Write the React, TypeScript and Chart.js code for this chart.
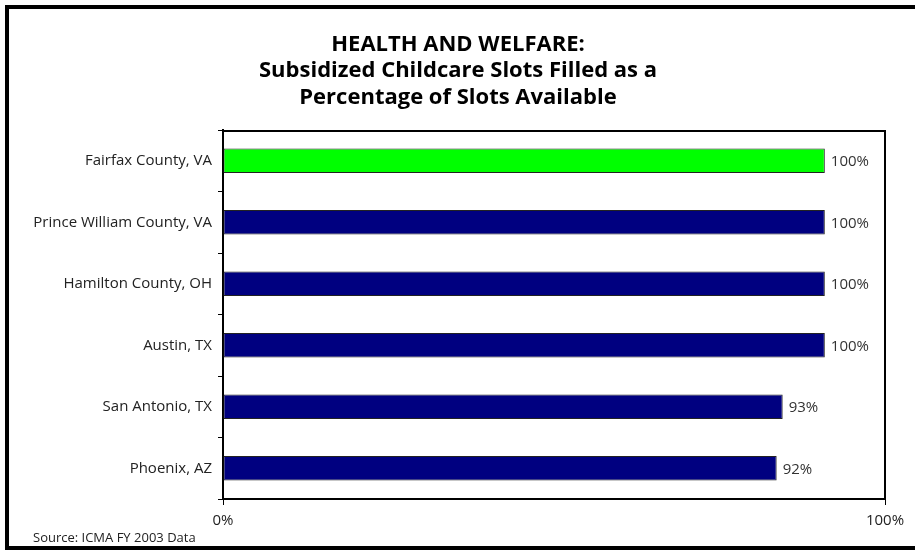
import React, { useEffect, useRef } from "react";
import { Chart, registerables } from "chart.js";

Chart.register(...registerables);

const titleLines = [
  "HEALTH AND WELFARE:",
  "Subsidized Childcare Slots Filled as a",
  "Percentage of Slots Available",
];
const sourceNote = "Source: ICMA FY 2003 Data";
const categories = [
  "Fairfax County, VA",
  "Prince William County, VA",
  "Hamilton County, OH",
  "Austin, TX",
  "San Antonio, TX",
  "Phoenix, AZ",
];
const values = [100, 100, 100, 100, 93, 92];
const valueLabels = ["100%", "100%", "100%", "100%", "93%", "92%"];
const barColors = ["#00FF00", "#000080", "#000080", "#000080", "#000080", "#000080"];
const xTickValues = [0, 110];
const xTickLabels = ["0%", "100%"];

const FONT = "'Open Sans', Lato, sans-serif";

const decorPlugin = {
  id: "decor",
  afterDraw(chart: any) {
    const { ctx, chartArea } = chart;
    ctx.save();
    // outer frame
    ctx.strokeStyle = "#000";
    ctx.lineWidth = 4;
    ctx.strokeRect(7, 7, 920, 541);
    // plot frame top/right
    ctx.lineWidth = 2;
    ctx.beginPath();
    ctx.moveTo(chartArea.left, chartArea.top + 1);
    ctx.lineTo(chartArea.right, chartArea.top + 1);
    ctx.moveTo(chartArea.right, chartArea.top);
    ctx.lineTo(chartArea.right, chartArea.bottom);
    ctx.stroke();
    // title
    ctx.fillStyle = "#000";
    ctx.textAlign = "center";
    ctx.textBaseline = "middle";
    ctx.font = `bold 22px ${FONT}`;
    const ys = [45, 71, 98];
    titleLines.forEach((t, i) => ctx.fillText(t, 458, ys[i]));
    // source
    ctx.font = `13px ${FONT}`;
    ctx.textAlign = "left";
    ctx.fillStyle = "#222";
    ctx.fillText(sourceNote, 33, 538);
    // value labels
    const meta = chart.getDatasetMeta(0);
    ctx.font = `15px ${FONT}`;
    ctx.fillStyle = "#333";
    meta.data.forEach((bar: any, i: number) => {
      ctx.fillText(valueLabels[i], bar.x + 6, bar.y + 1);
    });
    ctx.restore();
  },
};

export default function App() {
  const ref = useRef<HTMLCanvasElement>(null);
  useEffect(() => {
    if (!ref.current) return;
    const chart = new Chart(ref.current, {
      type: "bar",
      data: {
        labels: categories,
        datasets: [
          {
            data: values,
            backgroundColor: barColors,
            borderColor: "#222",
            borderWidth: 1,
            borderSkipped: false,
            barPercentage: 0.4,
            categoryPercentage: 1,
          },
        ],
      },
      plugins: [decorPlugin],
      options: {
        indexAxis: "y",
        responsive: false,
        devicePixelRatio: 1,
        animation: false,
        layout: { padding: { top: 130, right: 30, bottom: 0, left: 0 } },
        plugins: {
          legend: { display: false },
          tooltip: { enabled: false },
          title: { display: false },
        },
        scales: {
          x: {
            min: 0,
            max: 110,
            afterBuildTicks(scale: any) {
              scale.ticks = xTickValues.map((v) => ({ value: v }));
            },
            afterFit(scale: any) {
              scale.height = 51;
            },
            grid: {
              drawOnChartArea: false,
              drawTicks: true,
              tickLength: 6,
              color: "#000",
            },
            border: { display: true, color: "#000", width: 2 },
            ticks: {
              padding: 7,
              color: "#222",
              font: { family: FONT, size: 15 },
              maxRotation: 0,
              autoSkip: false,
              callback: (_v: any, i: number) => xTickLabels[i],
            },
          },
          y: {
            afterFit(scale: any) {
              scale.width = 223;
            },
            grid: {
              offset: true,
              drawOnChartArea: false,
              drawTicks: true,
              tickLength: 5,
              color: "#000",
            },
            border: { display: true, color: "#000", width: 2 },
            ticks: {
              padding: 6,
              color: "#222",
              font: { family: FONT, size: 15 },
              autoSkip: false,
            },
          },
        },
      },
    } as any);
    return () => chart.destroy();
  }, []);
  return (
    <div style={{ position: "absolute", left: 0, top: 0, width: 915, height: 550, background: "#fff" }}>
      <canvas ref={ref} width={915} height={550} />
    </div>
  );
}
